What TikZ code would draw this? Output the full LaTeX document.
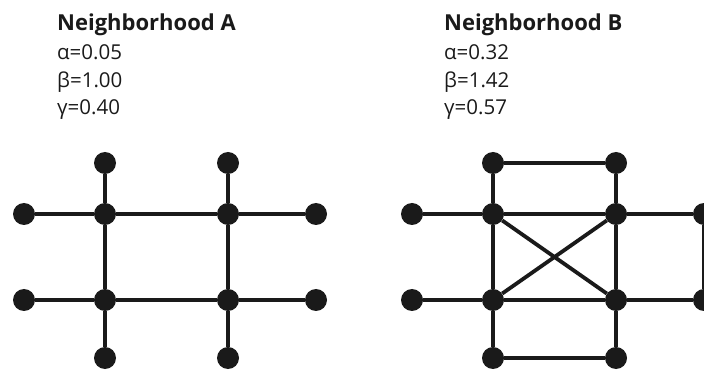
\documentclass[tikz,border=0pt]{standalone}
\usepackage{fontspec}
\setmainfont{Open Sans}
\usetikzlibrary{positioning}
\definecolor{netblack}{RGB}{26,26,26}

\begin{document}
\begin{tikzpicture}[x=1pt, y=-1pt,
    dot/.style={circle, fill=netblack, minimum size=22pt, inner sep=0pt},
    link/.style={netblack, line width=3.8pt},
    title/.style={anchor=base west, inner sep=0pt, text=netblack,
        font=\fontsize{22}{26}\selectfont\bfseries},
    param/.style={anchor=base west, inner sep=0pt, text=netblack,
        font=\fontsize{20.5}{24}\selectfont}]
\useasboundingbox (0,0) rectangle (704,371);
\clip (0,0) rectangle (704,371);

% Labels
\node[title] (titleA) at (57,31) {Neighborhood A};
\node[title] (titleB) at (444,31) {Neighborhood B};
\foreach \n/\x/\y/\txt in {alphaA/57/60/α=0.05, betaA/57/88/β=1.00, gammaA/57/115/γ=0.40,
    alphaB/444/60/α=0.32, betaB/444/88/β=1.42, gammaB/444/115/γ=0.57}
    \node[param] (\n) at (\x,\y) {\txt};

% Neighborhood A: four hubs and their leaves
\foreach \n/\x/\y in {a1/105/214, a2/228/214, a3/105/300, a4/228/300,
    aN1/105/163, aN2/228/163, aW1/24/214, aW2/24/300,
    aE1/316/214, aE2/316/300, aS1/105/358, aS2/228/358}
    \node[dot] (\n) at (\x,\y) {};
\foreach \u/\v in {a1/a2, a3/a4, a1/a3, a2/a4, aN1/a1, aN2/a2,
    aW1/a1, aW2/a3, a2/aE1, a4/aE2, a3/aS1, a4/aS2}
    \draw[link] (\u) -- (\v);

% Neighborhood B: same grid, extra ties
\foreach \n/\x/\y in {b1/493/214, b2/616/214, b3/493/300, b4/616/300,
    bN1/493/163, bN2/616/163, bW1/412/214, bW2/412/300,
    bE1/704/214, bE2/704/300, bS1/493/358, bS2/616/358}
    \node[dot] (\n) at (\x,\y) {};
\foreach \u/\v in {b1/b2, b3/b4, b1/b3, b2/b4, bN1/b1, bN2/b2,
    bW1/b1, bW2/b3, b2/bE1, b4/bE2, b3/bS1, b4/bS2,
    bN1/bN2, bS1/bS2, bE1/bE2, b1/b4, b2/b3}
    \draw[link] (\u) -- (\v);
\end{tikzpicture}
\end{document}
